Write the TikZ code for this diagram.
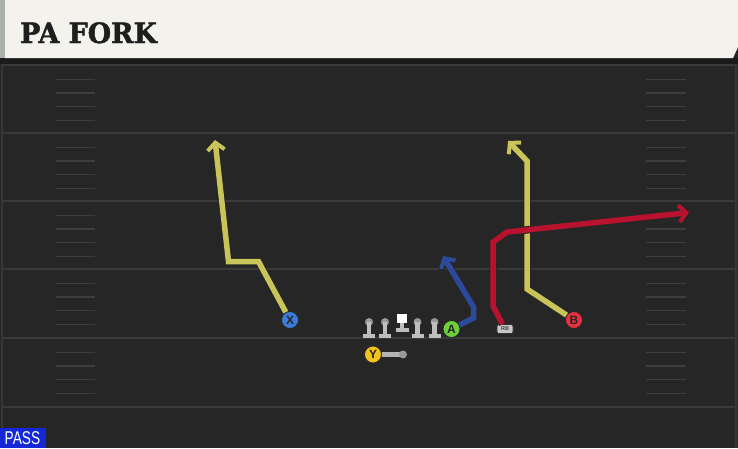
\documentclass[tikz,border=0pt]{standalone}
\usepackage{fontspec}
\setmainfont{Liberation Sans}
\newfontfamily\titlefont{DejaVu Serif}[BoldFeatures={FakeBold=1.6, FakeStretch=0.96}]
\usetikzlibrary{arrows.meta}

\tikzset{
  yardline/.style={draw=col, line width=2pt},
  hashmark/.style={draw=col, line width=1.8pt},
  player/.style={circle, draw=black!85, line width=0.8pt, minimum size=17pt, inner sep=0pt,
    font=\bfseries\fontsize{12}{12}\selectfont, text=black!85},
  routeedge/.style={line width=7.5pt, draw=black!85, -{Straight Barb[length=8pt, width=19pt, line width=6pt]}},
  routeline/.style={line width=5.5pt, -{Straight Barb[length=7.5pt, width=17pt, line width=4pt]}},
  rbbox/.style={draw=black!80, fill=black!22, rounded corners=2pt, line width=0.6pt,
    minimum width=16pt, minimum height=9pt, inner sep=0pt,
    font=\bfseries\fontsize{5.5}{5.5}\selectfont, text=black!75}
}

\begin{document}
\begin{tikzpicture}[x=1pt, y=-1pt]
\useasboundingbox (0,0) rectangle (738,448);
% field
\definecolor{col}{HTML}{262626}
\fill[col] (0,0) rectangle (738,448);
\definecolor{col}{HTML}{1A1A1A}
\fill[col] (0,58) rectangle (738,64);
\definecolor{col}{HTML}{363636}
\draw[col, line width=1.5pt] (2,64) -- (2,448) (736,64) -- (736,448);
\definecolor{col}{HTML}{3A3A3A}
\foreach \y in {65,133,201,269,338,407}
  \draw[yardline] (3,\y) -- (735,\y);
\definecolor{col}{HTML}{3E3E3E}
\foreach \y in {65,133,201,269,338}
  \foreach \d in {14.5,28,41.5,55.5} {
    \draw[hashmark] (56,{\y+\d}) -- (95,{\y+\d});
    \draw[hashmark] (646,{\y+\d}) -- (686,{\y+\d});
  }
% header
\definecolor{col}{HTML}{F4F2EC}
\fill[col] (5,0) -- (738,0) -- (738,47) -- (733,58) -- (5,58) -- cycle;
\definecolor{col}{HTML}{AAB0AA}
\fill[col] (0,0) rectangle (5,58);
\definecolor{col}{HTML}{1E1E1E}
\node[anchor=base west, inner sep=0pt, text=col, font=\titlefont\bfseries\fontsize{28}{28}\selectfont] (title) at (20,43) {PA FORK};
% line
\definecolor{col}{HTML}{BEBEBE}
\foreach \x in {369,385,417.5,434.5} {
  \fill[col!80!black] (\x,322) circle (4);
  \fill[col] (\x-2.3,322) rectangle (\x+2.3,334);
  \fill[col] (\x-6,333.5) rectangle (\x+6,338);
}
\fill[white] (397,314) rectangle (407,323.3);
\fill[col] (400,323) rectangle (404.3,329);
\fill[col] (395.5,327.7) rectangle (409,331.7);
% players
\definecolor{col}{HTML}{3C7BD8}
\node[player, fill=col] (X) at (290,320) {X};
\definecolor{col}{HTML}{6FCF3A}
\node[player, fill=col] (A) at (451.5,329) {A};
\definecolor{col}{HTML}{E8303F}
\node[player, fill=col] (B) at (574,320) {B};
\definecolor{col}{HTML}{F2C21E}
\node[player, fill=col] (Y) at (373,354.5) {Y};
\node[rbbox] (RB) at (505,329) {RB};
% routes
\coordinate (Xend) at (215,140);
\coordinate (Bend) at (508,141);
\coordinate (Aend) at (443,256);
\coordinate (RBend) at (689,212.5);
\coordinate (Yblock) at (403,354.5);
\definecolor{col}{HTML}{C8C45A}
\draw[routeedge] (X) -- (258.5,261.5) -- (228.5,261.5) -- (Xend);
\draw[routeline, draw=col] (X) -- (258.5,261.5) -- (228.5,261.5) -- (Xend);
\draw[routeedge] (B) -- (527,289) -- (527,161) -- (Bend);
\draw[routeline, draw=col] (B) -- (527,289) -- (527,161) -- (Bend);
\definecolor{col}{HTML}{B8122E}
\draw[routeedge] (RB) -- (493,306) -- (493,242) -- (507,232) -- (RBend);
\draw[routeline, draw=col] (RB) -- (493,306) -- (493,242) -- (507,232) -- (RBend);
\definecolor{col}{HTML}{2B4A9C}
\draw[routeedge] (A) -- (473.5,318) -- (473.5,307) -- (Aend);
\draw[routeline, draw=col] (A) -- (473.5,318) -- (473.5,307) -- (Aend);
\definecolor{col}{HTML}{B4B4B4}
\draw[col, line width=4.5pt] (Y) -- (Yblock);
\fill[col!85!black] (Yblock) circle (4);
% tag
\definecolor{col}{HTML}{1428D8}
\fill[col] (0,428) rectangle (46,448);
\node[text=white, inner sep=0pt, xscale=0.74, font=\fontsize{18.5}{18.5}\selectfont] (pass) at (22.5,438.5) {PASS};
\end{tikzpicture}
\end{document}
